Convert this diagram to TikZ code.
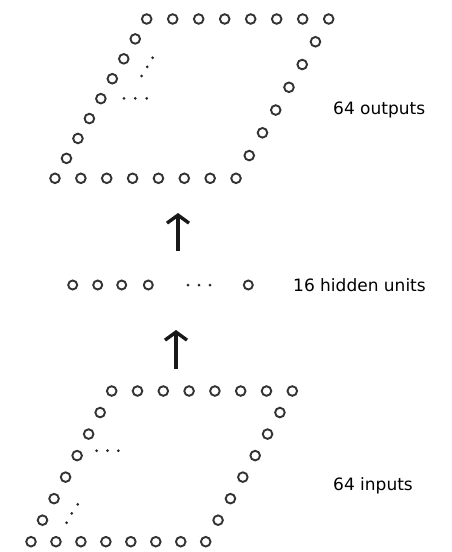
\documentclass[tikz,border=0pt]{standalone}
\usepackage{fontspec}
\setmainfont{DejaVu Sans}
\usetikzlibrary{arrows.meta}
\begin{document}
\begin{tikzpicture}[x=1pt,y=-1pt,
  unit/.style={circle,draw=black!80,line width=1.9pt,minimum size=9.6pt,inner sep=0pt},
  hunit/.style={unit,minimum size=9pt},
  dot/.style={circle,fill=black!85,minimum size=3pt,inner sep=0pt},
  lbl/.style={anchor=west,inner sep=0pt,font=\fontsize{17}{20}\selectfont,text=black},
  flow/.style={line width=3.4pt,draw=black!90,-{Straight Barb[length=8pt,width=22pt]}}]
\useasboundingbox (0,0) rectangle (452,552);

% ---- output layer: 64 units arranged on a slanted frame ----
\foreach \i in {0,...,7} \node[unit] (ot\i) at ({146.7+26*\i},19) {};
\foreach \i in {0,...,7} \node[unit] (ob\i) at ({55+25.86*\i},178.3) {};
\foreach \i in {1,...,7} \node[unit] (ol\i) at ({146.7-11.46*\i},{19+19.91*\i}) {};
\foreach \i in {1,...,6} \node[unit] (or\i) at ({328.7-13.24*\i},{19+22.76*\i}) {};
% ellipses inside the output frame
\foreach \x [count=\k] in {124,135.3,146.7} \node[dot] (oh\k) at (\x,98.3) {};
\node[dot] (od1) at (141.7,76) {};
\node[dot] (od2) at (147.2,66.8) {};
\node[dot] (od3) at (152.7,57.7) {};

% ---- hidden layer ----
\foreach \x [count=\k] in {72.7,97.7,121.7,148.3} \node[hunit] (h\k) at (\x,285) {};
\node[hunit] (h16) at (248.3,285) {};
\foreach \x [count=\k] in {188,199,210} \node[dot] (hh\k) at (\x,285) {};

% ---- input layer ----
\foreach \i in {0,...,7} \node[unit] (it\i) at ({111.7+25.8*\i},391) {};
\foreach \i in {0,...,7} \node[unit] (ib\i) at ({31+24.96*\i},541.7) {};
\foreach \i in {1,...,6} \node[unit] (il\i) at ({111.7-11.53*\i},{391+21.53*\i}) {};
\foreach \i in {1,...,6} \node[unit] (ir\i) at ({292.3-12.37*\i},{391+21.53*\i}) {};
\foreach \x [count=\k] in {96.7,107.5,118.3} \node[dot] (ih\k) at (\x,450.7) {};
\node[dot] (id1) at (66.7,522.7) {};
\node[dot] (id2) at (71.7,513.3) {};
\node[dot] (id3) at (77.7,504.3) {};

% ---- flow arrows between layers ----
\coordinate (upA0) at (178,251);
\coordinate (upA1) at (178,213);
\coordinate (upB0) at (176,369);
\coordinate (upB1) at (176,330);
\draw[flow] (upA0) -- (upA1);
\draw[flow] (upB0) -- (upB1);

% ---- labels ----
\node[lbl] (lout) at (333,110) {64 outputs};
\node[lbl] (lhid) at (293,285) {16 hidden units};
\node[lbl] (lin) at (333,486) {64 inputs};
\end{tikzpicture}
\end{document}
